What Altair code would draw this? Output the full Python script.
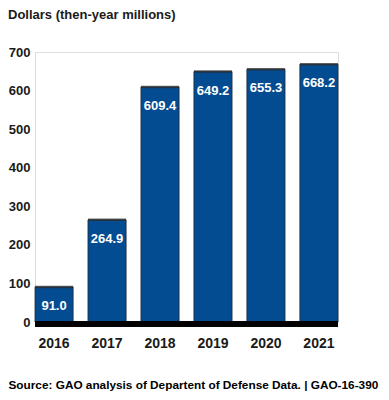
import altair as alt
import pandas as pd

years = ["2016", "2017", "2018", "2019", "2020", "2021"]
values = [91.0, 264.9, 609.4, 649.2, 655.3, 668.2]
labels = ["91.0", "264.9", "609.4", "649.2", "655.3", "668.2"]
y_ticks = [0, 100, 200, 300, 400, 500, 600, 700]

df = pd.DataFrame({"year": years, "value": values, "label": labels})

FONT = "Liberation Sans, Arial, sans-serif"
BLUE = "#044c91"

y_scale = alt.Scale(domain=[0, 700], nice=False)
y_axis = alt.Axis(
    title=None,
    values=y_ticks,
    labelFont=FONT,
    labelFontSize=13,
    labelFontWeight="bold",
    labelColor="#1a1a1a",
    labelPadding=5,
    labelOverlap=False,
    ticks=False,
    domain=False,
    grid=False,
)

x = alt.X(
    "year:N",
    sort=years,
    scale=alt.Scale(paddingInner=0.28, paddingOuter=0.0),
    axis=alt.Axis(
        title="Source: GAO analysis of Departent of Defense Data. | GAO-16-390",
        titleFont=FONT,
        titleFontSize=11.8,
        titleFontWeight="bold",
        titleColor="#000000",
        titleAnchor="start",
        titleAlign="left",
        titleBaseline="middle",
        titleX=-27,
        titleY=62,
        labelAngle=0,
        labelFont=FONT,
        labelFontSize=14,
        labelFontWeight="bold",
        labelColor="#1a1a1a",
        labelPadding=14,
        labelOverlap=False,
        ticks=False,
        domain=False,
        grid=False,
    ),
)
y = alt.Y("value:Q", scale=y_scale, axis=y_axis)

base = alt.Chart(df).encode(x=x, y=y)

bars = base.mark_bar(color=BLUE, stroke="#1d2a3a", strokeWidth=0.8)
tops = base.mark_tick(color="#2b2b2b", thickness=2.5, size=38, orient="horizontal")
text = base.mark_text(
    color="white", font=FONT, fontSize=13, fontWeight="bold", baseline="middle", dy=19
).encode(text="label:N")
baseline = alt.Chart(df).mark_rule(color="#000000", strokeWidth=5, yOffset=2).encode(
    y=alt.Y(datum=0, scale=y_scale, axis=y_axis)
)

chart = (
    alt.layer(bars, tops, text, baseline)
    .properties(
        width=303,
        height=270,
        autosize=alt.AutoSizeParams(type="none"),
        padding={"left": 27, "top": 44, "right": 43, "bottom": 70},
        title=alt.TitleParams(
            "Dollars (then-year millions)",
            anchor="start",
            frame="group",
            dx=-27,
            offset=24,
            font=FONT,
            fontSize=13,
            fontWeight="bold",
            color="#1a1a1a",
        ),
    )
    .configure_view(stroke=None)
    .configure(background="white")
)

chart.save("out.html", embed_options={"renderer": "svg", "actions": False})
